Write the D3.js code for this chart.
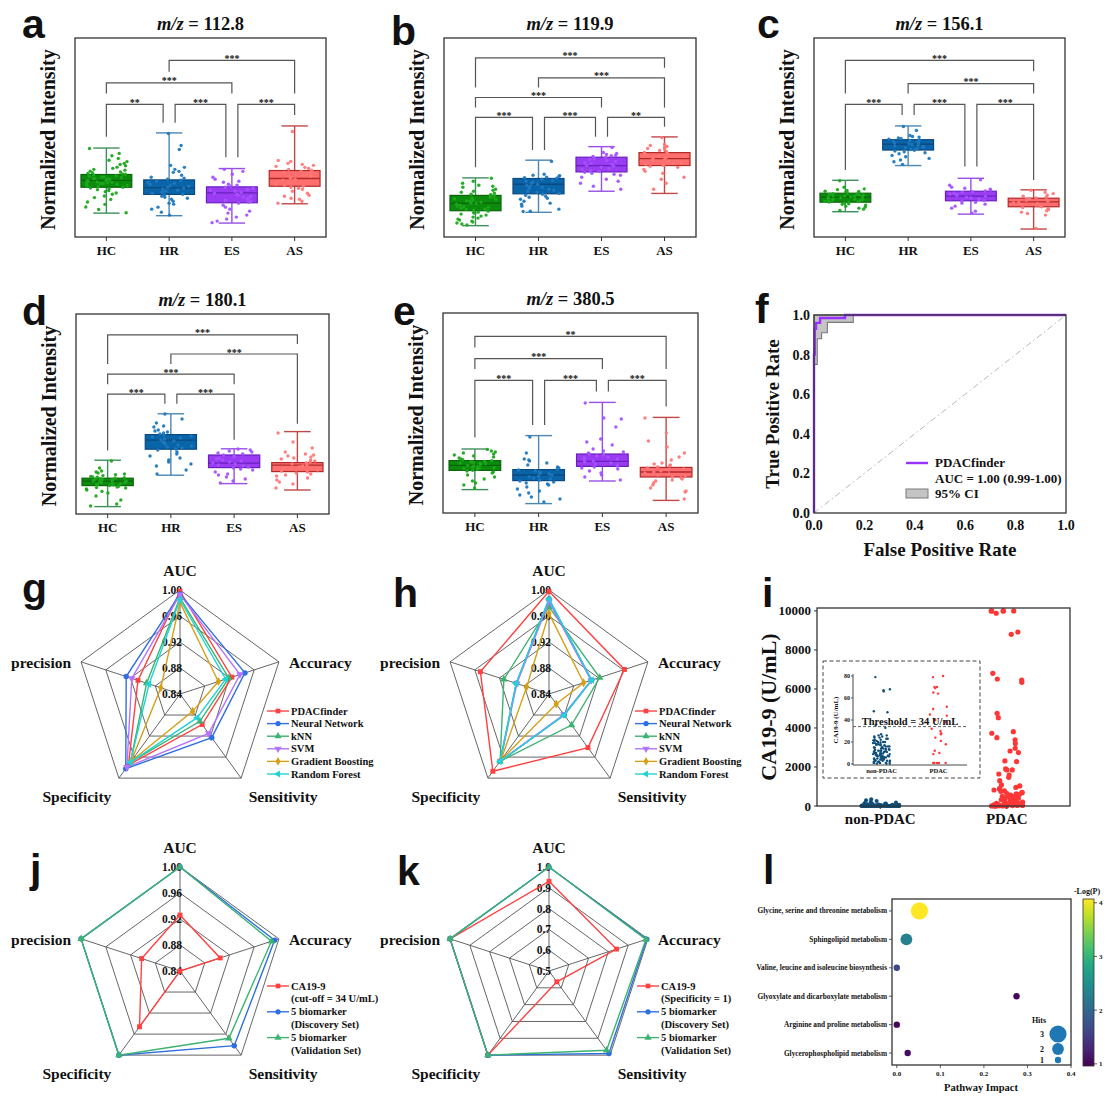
<!DOCTYPE html>
<html><head><meta charset="utf-8">
<script src="https://cdn.jsdelivr.net/npm/d3@7"></script>
<style>
body{margin:0;background:#fff}
svg{display:block}
text{font-family:"Liberation Serif","Times New Roman",serif;font-weight:bold;fill:#111}
</style></head><body>
<svg id="c" width="1116" height="1106"></svg>
<script>
// ---------------- DATA ----------------
const groups = ["HC","HR","ES","AS"];
// box stats [min,q1,median,q3,max] (normalized units, 0-100 of plot height)
const statsA = [[12.0,25.0,28.5,31.4,44.7],[10.7,21.4,24.7,28.7,52.3],[7.0,17.2,22.2,25.2,34.4],[16.7,25.5,29.4,33.4,55.8]];
const statsB = [[5.7,13.2,17.0,20.9,29.7],[12.4,21.7,26.5,29.4,38.6],[23.0,32.7,35.9,40.1,45.4],[21.9,35.9,39.4,42.4,50.3]];
const statsC = [[12.7,17.5,20.0,22.0,28.5],[35.9,43.7,46.6,48.9,55.8],[11.5,18.2,20.5,23.0,29.5],[4.0,15.2,17.7,19.5,23.7]];
const statsD = [[3.7,14.2,16.4,17.9,26.9],[19.4,32.4,36.9,39.7,50.1],[15.2,23.2,25.4,29.5,32.6],[12.0,21.2,24.4,25.7,41.2]];
const statsE = [[11.7,21.3,23.8,26.2,32.0],[4.7,16.2,19.0,21.7,38.7],[16.0,23.3,25.8,29.5,55.3],[6.3,18.0,20.5,22.8,47.8]];

const pointsA = [
 [44.5,42,40.8,39.5,38.6,37.9,37,36.4,35.8,35.1,34.5,34,33.6,33.1,32.7,32.3,31.9,31.5,31.2,30.8,30.5,30.1,29.8,29.5,29.2,28.9,28.6,28.3,28,27.7,27.4,27.1,26.8,26.5,26.2,25.9,25.6,25.3,25,24.6,24.2,23.8,23.3,22.8,22.1,21.5,20.6,19.8,18.9,17.6,16.4,15.1,13.8,12.2,29.3,28.1,30.2,26.9,31.7,27.5],
 [52,46,44,36,35,34,33,32.5,31,30,29.5,29,28.5,28,27.5,27,26.5,26,25.5,25,24.5,24,23.5,23,22.5,22,21.5,21,20.5,20,19.5,19,18,17,16.5,15,14,12.5,11],
 [34,33,31.5,30,29,28,27.5,26.5,26,25.5,25,24.5,24,23.5,23,22.5,22,21.5,21,20.5,20,19.5,19,18.5,18,17.5,17,16,15,14,13,12,11,10,9,8,7.2],
 [53,38.5,38,37,36.5,36,35.5,35,34.5,34,33.5,33,32.5,32,31.5,31,30.5,30,29.5,29,28.5,28,27.5,27,26.5,26,25.5,25,24.5,24,23,22,21,20.5,19.5,19,18,17]];
const pointsB = [
 [29.5,28,27,26,25.5,25,24,23.5,23,22.5,22,21.5,21,20.5,20,19.5,19,18.5,18,17.5,17,16.5,16,15.5,15,14.5,14,13.5,13,12.5,12,11.5,11,10.5,10,9.5,9,8.5,8,7.5,7,6.5,6,18.2,16.8,15.2,13.8,19.2,21.3,12.2],
 [38,31.5,31,30.8,30.5,30,29.8,29.5,29,28.5,28,27.5,27,26.5,26,25.5,25,24.5,24,23.5,23,22.5,22,21.5,21,20.5,20,19.5,19,18,17,16.5,15.5,14,13,12.8],
 [45,42.5,42,41.5,41,40.8,40.5,40,39.5,39,38.5,38,37.5,37,36.5,36,35.5,35,34.5,34,33.5,33,32.5,32,31.5,31,30,29,28,27,25.5,24],
 [50,46.5,46,45.5,45,44.5,44,43.5,43,42.5,42,41.5,41,40.5,40,39.5,39,38.5,38,37.5,37,36.5,36,35.5,35,34,33,32,30,29,27,24]];
const pointsC = [
 [28.3,25,24.2,23.8,23.4,23,22.7,22.4,22.1,21.8,21.5,21.2,20.9,20.6,20.3,20,19.7,19.4,19.1,18.8,18.5,18.2,17.9,17.6,17.3,17,16.7,16.4,16,15.5,15,14.5,14,13.3,21,19,20.5,18,22.9,17.8,19.9,21.6],
 [55.5,53.5,51,50.5,50.2,49.8,49.5,49.2,48.9,48.5,48.2,47.9,47.5,47.2,46.9,46.5,46.2,45.8,45.5,45.1,44.8,44.4,44,43.6,43.2,42.8,42.3,41.8,41,40.3,39.5,38.7,37.8,36.5],
 [28.8,26,25,24.5,24,23.6,23.2,22.8,22.4,22,21.6,21.2,20.8,20.4,20,19.6,19.2,18.8,18.4,18,17.5,17,16.5,15.5,14.5,13,12],
 [23.5,22.5,21.8,21,20.5,20,19.6,19.2,18.8,18.4,18,17.6,17.2,16.8,16.4,16,15.6,15.2,14.8,14.3,13.8,13.2,12.5,11.8,11,4.3]];
const pointsD = [
 [26.5,23,21.5,21,20.5,20,19.6,19.2,18.8,18.5,18.2,17.9,17.6,17.3,17,16.8,16.5,16.2,16,15.7,15.4,15.1,14.8,14.5,14.2,13.9,13.5,13,12.5,12,11.3,10.5,9,7,5,4,17.1,15.9,16.6,14.6,18.4,13.2],
 [50,47.5,45.5,44,43.5,42,41.5,41,40.5,40,39.5,39,38.5,38,37.5,37,36.5,36,35.5,35,34.5,34,33.5,33,32.5,32,31,30,29,28,27,26,25,24,22,20],
 [32.5,32,31.5,31,30.5,30,29.5,29,28.5,28,27.5,27,26.5,26,25.5,25,24.5,24,23.5,23,22.5,22,21,20,19.5,18.5,17.5,16.5,15.5],
 [40.5,36,33,31,30,29.5,29,28.5,28,27.5,27,26.5,26,25.5,25,24.5,24,23.5,23,22.5,22,21.5,21,20.5,20,19.5,19,18,17,16,15,13]];
const pointsE = [
 [31.8,31,30.5,30,29.5,29,28.5,28,27.5,27,26.6,26.2,25.8,25.4,25,24.6,24.2,23.8,23.4,23,22.6,22.2,21.8,21.4,21,20.5,20,19,18,17,16,15,14,12.5,24.9,23.1,22.4,25.6],
 [38,30,27,26.5,26,25,24,23,22.5,22,21.5,21,20.5,20,19.5,19,18.5,18,17.5,17,16.5,16,15.5,15,14.5,14,13,12,11,10,9,8,7,5.5],
 [55,47.5,47,43,37,35.5,34,32,31,30.5,30,29.5,29,28.5,28,27.5,27,26.5,26,25.5,25,24.5,24,23.5,23,22.5,22,21,20,19,18,16.5],
 [47.5,40,36,33,30,28,26.5,25,24.5,24,23.5,23,22.5,22,21.5,21,20.5,20,19.5,19,18.5,18,17.5,17,16.5,16,15,14,12.5,11,10.5,7]];

// significance brackets: [from, to, bracket level, left leg bottom, right leg bottom, label]
const bracketsA = [["HC","HR",66.6,50.4,57.4,"**"],["HR","ES",66.6,57.4,40.1,"***"],["ES","AS",66.6,40.1,61.3,"***"],["HC","ES",77.5,72.1,72.1,"***"],["HR","AS",88.8,83.0,72.1,"***"]];
const bracketsB = [["HC","HR",60.1,35.1,43.7,"***"],["HR","ES",60.1,43.7,50.4,"***"],["ES","AS",60.1,50.4,55.4,"**"],["HC","ES",70.1,65.1,65.1,"***"],["HR","AS",80.0,75.1,65.1,"***"],["HC","AS",90.0,75.1,85.0,"***"]];
const bracketsC = [["HC","HR",66.6,33.7,61.3,"***"],["HR","ES",66.6,61.3,35.4,"***"],["ES","AS",66.6,35.4,28.7,"***"],["HR","AS",77.1,72.1,72.1,"***"],["HC","AS",88.8,72.1,83.3,"***"]];
const bracketsD = [["HC","HR",59.9,31.7,55.1,"***"],["HR","ES",59.9,55.1,37.1,"***"],["HC","ES",69.9,64.9,64.9,"***"],["HR","AS",80.0,75.0,45.1,"***"],["HC","AS",89.6,75.0,85.0,"***"]];
const bracketsE = [["HC","HR",66.3,37.8,44.0,"***"],["HR","ES",66.3,44.0,60.8,"***"],["ES","AS",66.3,60.8,53.3,"***"],["HC","ES",77.2,72.0,72.0,"***"],["HC","AS",88.3,82.8,72.0,"**"]];

// ROC (panel f)
const rocFpr = [0,0,0.003,0.003,0.008,0.008,0.024,0.024,0.123,0.123,1.0];
const rocTpr = [0,0.80,0.80,0.93,0.93,0.96,0.96,0.985,0.985,1.0,1.0];
const ciLowFpr = [0,0.013,0.013,0.03,0.03,0.053,0.053,0.156,0.156,1.0];
const ciLowTpr = [0.75,0.75,0.88,0.88,0.91,0.91,0.963,0.963,1.0,1.0];
const fTicks = [0,0.2,0.4,0.6,0.8,1.0];

// radar panels
const radarAxes = ["AUC","Accuracy","Sensitivity","Specificity","precision"];
const modelNames = ["PDACfinder","Neural Network","kNN","SVM","Gradient Boosting","Random Forest"];
const gValues = [
 [0.998,0.924,0.898,0.975,0.908],
 [0.994,0.945,0.923,0.982,0.927],
 [0.988,0.919,0.892,0.970,0.894],
 [0.993,0.937,0.915,0.979,0.918],
 [0.981,0.902,0.873,0.968,0.871],
 [0.985,0.914,0.885,0.970,0.890]];
const hValues = [
 [0.998,0.962,0.942,0.987,0.951],
 [0.986,0.909,0.880,0.968,0.893],
 [0.974,0.922,0.899,0.968,0.913],
 [0.982,0.908,0.879,0.967,0.892],
 [0.964,0.896,0.859,0.966,0.876],
 [0.986,0.909,0.880,0.968,0.893]];
const radarTicks4 = [0.84,0.88,0.92,0.96,1.00];
const jNames = [["CA19-9","(cut-off = 34 U/mL)"],["5 biomarker","(Discovery Set)"],["5 biomarker","(Validation Set)"]];
const jValues = [[0.926,0.905,0.84,0.946,0.902],[1.0,0.993,0.982,1.0,1.0],[1.0,0.988,0.968,1.0,1.0]];
const kNames = [["CA19-9","(Specificity = 1)"],["5 biomarker","(Discovery Set)"],["5 biomarker","(Validation Set)"]];
const kValues = [[0.931,0.841,0.564,1.0,1.0],[1.0,0.994,0.990,1.0,1.0],[1.0,0.990,0.971,1.0,1.0]];
const radarTicksK = [0.5,0.6,0.7,0.8,0.9,1.0];

// panel i: CA19-9
const iCats = ["non-PDAC","PDAC"];
const nonPdacValues = [79,68,67,66,48,47,35,33,27,26,26,25,25,24,24,23,23,22,22,21,21,20,20,20,19,19,18,18,18,17,17,16,16,16,15,15,15,14,14,14,13,13,13,12,12,12,12,11,11,11,10,10,10,10,9,9,9,9,8,8,8,8,7,7,7,7,6,6,6,6,5,5,5,5,4,4,4,4,3,3,3,3,2,2,2,2,1,1,1,1,0.5,0.5,0.5,21.5,17.5,13.5,9.5,5.5,11.5,15.5,3.5,7.5,19.5,6.5,120,150,180,95,110,300,340,260,210,140,90,105,130];
const pdacValues = [10000,10000,10000,10000,10000,9880,8800,8920,6510,6460,6800,6340,4750,4530,3810,3730,3500,3390,3210,2960,2820,2740,2310,2270,1900,1850,1850,1640,1590,1470,1300,1080,1030,870,950,900,820,780,750,700,680,650,620,600,560,520,500,480,450,420,400,380,350,320,300,280,260,240,220,200,180,160,150,130,120,100,90,80,79,70,69,65,64,70,52,50,45,44,40,38,32,30,28,27,24,21,18,12,10,9,1,1,1,1,1];
const iTicks = [0,2000,4000,6000,8000,10000];
const insetTicks = [0,20,40,60,80];
const threshold = 34;

// panel l: pathway analysis
const pathways = ["Glycine, serine and threonine metabolism","Sphingolipid metabolism","Valine, leucine and isoleucine biosynthesis","Glyoxylate and dicarboxylate metabolism","Arginine and proline metabolism","Glycerophospholipid metabolism"];
const pathImpact = [0.052,0.022,0.0,0.275,0.0,0.025];
const pathLogP = [4.07,2.3,1.62,1.03,1.02,1.06];
const pathHits = [3,2,1,1,1,1];
const lTicks = [0.0,0.1,0.2,0.3,0.4];
const cbTicks = [1,2,3,4];
const hitsLegend = [3,2,1];

// ---------------- DRAW ----------------
const svg = d3.select("#c");
svg.append("rect").attr("width",1116).attr("height",1106).attr("fill","#fff");

function T(g,x,y,s,size,anchor){
  return g.append("text").attr("x",x).attr("y",y).attr("font-size",size).attr("text-anchor",anchor||"start").text(s);
}
function jit(i,k){const r=Math.sin((i+1)*127.1+(k+1)*311.7)*43758.5453;return r-Math.floor(r)-0.5;}

const boxCol = [
 {fill:"#0c8c0c",edge:"#0a650a",wh:"#3f8f5c",pt:"#1ca81c"},
 {fill:"#0a64a8",edge:"#0a4a80",wh:"#4a87b5",pt:"#1f78be"},
 {fill:"#9a3df2",edge:"#6b1fbf",wh:"#9650e6",pt:"#a552ff"},
 {fill:"#ff6e6e",edge:"#b02a2a",wh:"#c24848",pt:"#ff7777"}];

function boxPanel(p){
  const g = svg.append("g");
  const x = d3.scalePoint().domain(groups).range([p.x0,p.x1]).padding(0.5);
  const y = d3.scaleLinear().domain([0,100]).range([p.y1,p.y0]);
  const st = x.step(), bw = st*0.81, cw = st*0.42;
  const t = g.append("text").attr("x",(p.x0+p.x1)/2).attr("y",p.y0-8).attr("font-size",18.5).attr("text-anchor","middle");
  t.append("tspan").attr("font-style","italic").text("m/z");
  t.append("tspan").text(" = "+p.title);
  g.append("text").attr("transform",`translate(${p.x0-20},${(p.y0+p.y1)/2+2}) rotate(-90)`).attr("font-size",20).attr("text-anchor","middle").text("Normalized Intensity");
  groups.forEach(c=>{
    g.append("line").attr("x1",x(c)).attr("x2",x(c)).attr("y1",p.y1).attr("y2",p.y1+4).attr("stroke","#333").attr("stroke-width",1);
    T(g,x(c),p.y1+18,c,13,"middle");
  });
  p.stats.forEach((s,i)=>{
    const cx = x(groups[i]), c = boxCol[i];
    g.append("line").attr("x1",cx).attr("x2",cx).attr("y1",y(s[0])).attr("y2",y(s[4])).attr("stroke",c.wh).attr("stroke-width",1.4);
    [s[0],s[4]].forEach(v=>g.append("line").attr("x1",cx-cw/2).attr("x2",cx+cw/2).attr("y1",y(v)).attr("y2",y(v)).attr("stroke",c.wh).attr("stroke-width",1.4));
    g.append("rect").attr("x",cx-bw/2).attr("width",bw).attr("y",y(s[3])).attr("height",y(s[1])-y(s[3])).attr("fill",c.fill).attr("stroke",c.edge).attr("stroke-width",1.2);
    g.append("line").attr("x1",cx-bw/2).attr("x2",cx+bw/2).attr("y1",y(s[2])).attr("y2",y(s[2])).attr("stroke",c.edge).attr("stroke-width",1.3);
  });
  p.points.forEach((arr,i)=>{
    const cx = x(groups[i]);
    arr.forEach((v,k)=>g.append("circle").attr("cx",cx+jit(k,i+p.seed)*st*0.68).attr("cy",y(v)).attr("r",1.7).attr("fill",boxCol[i].pt).attr("fill-opacity",0.95));
  });
  p.brackets.forEach(b=>{
    const ls = p.brackets.some(o=>o!==b&&o[2]===b[2]&&o[1]===b[0])?6:0;
    const rs = p.brackets.some(o=>o!==b&&o[2]===b[2]&&o[0]===b[1])?-6:0;
    const xa = x(b[0])+ls, xb = x(b[1])+rs;
    g.append("path").attr("d",`M${xa},${y(b[3])}V${y(b[2])}H${xb}V${y(b[4])}`).attr("fill","none").attr("stroke","#555").attr("stroke-width",1.2);
    T(g,(xa+xb)/2,y(b[2])+1.5,b[5],10,"middle").attr("fill","#333");
  });
  g.append("rect").attr("x",p.x0).attr("y",p.y0).attr("width",p.x1-p.x0).attr("height",p.y1-p.y0).attr("fill","none").attr("stroke","#333").attr("stroke-width",1.3);
}

boxPanel({x0:75,x1:326,y0:38,y1:237,title:"112.8",stats:statsA,points:pointsA,brackets:bracketsA,seed:0});
boxPanel({x0:444,x1:696,y0:38,y1:237,title:"119.9",stats:statsB,points:pointsB,brackets:bracketsB,seed:5});
boxPanel({x0:814,x1:1065,y0:38,y1:237,title:"156.1",stats:statsC,points:pointsC,brackets:bracketsC,seed:10});
boxPanel({x0:76,x1:329,y0:314,y1:514,title:"180.1",stats:statsD,points:pointsD,brackets:bracketsD,seed:15});
boxPanel({x0:443,x1:698,y0:313,y1:513,title:"380.5",stats:statsE,points:pointsE,brackets:bracketsE,seed:20});

// ---- ROC panel f ----
(function(){
  const g = svg.append("g");
  const x = d3.scaleLinear().domain([0,1]).range([814,1066]);
  const y = d3.scaleLinear().domain([0,1]).range([513,315]);
  const low = ciLowFpr.map((f,i)=>[x(f),y(ciLowTpr[i])]);
  const band = "M"+x(0)+","+y(1)+"L"+low.map(d=>d.join(",")).join("L")+"Z";
  g.append("path").attr("d",band).attr("fill","#c4c4c4").attr("stroke","#7a7a7a").attr("stroke-width",1.1);
  g.append("line").attr("x1",x(0)).attr("y1",y(0)).attr("x2",x(1)).attr("y2",y(1)).attr("stroke","#b8b8b8").attr("stroke-width",1).attr("stroke-dasharray","6,3,1.5,3");
  const line = d3.line().x(d=>x(d[0])).y(d=>y(d[1]));
  g.append("path").attr("d",line(rocFpr.map((f,i)=>[f,rocTpr[i]]))).attr("fill","none").attr("stroke","#9b30ff").attr("stroke-width",2.4);
  g.append("rect").attr("x",814).attr("y",315).attr("width",252).attr("height",198).attr("fill","none").attr("stroke","#333").attr("stroke-width",1.3);
  fTicks.forEach(t=>{
    T(g,x(t),530,t.toFixed(1),14,"middle");
    T(g,810,y(t)+5,t.toFixed(1),14,"end");
  });
  T(g,940,556,"False Positive Rate",19,"middle");
  g.append("text").attr("transform","translate(779,414) rotate(-90)").attr("font-size",19).attr("text-anchor","middle").text("True Positive Rate");
  g.append("line").attr("x1",906).attr("x2",928).attr("y1",463).attr("y2",463).attr("stroke","#9b30ff").attr("stroke-width",2.4);
  T(g,935,467,"PDACfinder",13);
  T(g,935,483,"AUC = 1.00 (0.99-1.00)",13);
  g.append("rect").attr("x",906).attr("y",489).attr("width",22).attr("height",9).attr("fill","#c4c4c4").attr("stroke","#7a7a7a");
  T(g,935,498,"95% CI",13);
})();

// ---- radar ----
const symMap = {sq:d3.symbolSquare,ci:d3.symbolCircle,tu:d3.symbolTriangle,td:d3.symbolTriangle,di:d3.symbolDiamond,tl:d3.symbolTriangle};
const symRot = {sq:0,ci:0,tu:0,td:180,di:0,tl:-90};
function radar(p){
  const g = svg.append("g");
  const ang = i => -Math.PI/2 + i*2*Math.PI/5;
  const r = d3.scaleLinear().domain([p.ticks[0],p.ticks[p.ticks.length-1]]).range([0,p.R]);
  const pt = (i,v) => [p.cx + r(v)*Math.cos(ang(i)), p.cy + r(v)*Math.sin(ang(i))];
  const vmax = p.ticks[p.ticks.length-1];
  p.ticks.slice(1).forEach(t=>{
    g.append("path").attr("d","M"+radarAxes.map((a,i)=>pt(i,t).join(",")).join("L")+"Z").attr("fill","none").attr("stroke","#555").attr("stroke-width",0.9);
  });
  radarAxes.forEach((a,i)=>{
    const e = pt(i,vmax);
    g.append("line").attr("x1",p.cx).attr("y1",p.cy).attr("x2",e[0]).attr("y2",e[1]).attr("stroke","#555").attr("stroke-width",0.9);
  });
  p.ticks.forEach(t=>T(g,p.cx+2,pt(0,t)[1]+4,p.fmt(t),11.5,"end"));
  const v = radarAxes.map((a,i)=>pt(i,vmax));
  T(g,p.cx,v[0][1]-14,"AUC",15.5,"middle");
  T(g,v[1][0]+10,v[1][1]+6,"Accuracy",15.5,"start");
  T(g,v[2][0]+42,v[2][1]+24,"Sensitivity",15.5,"middle");
  T(g,v[3][0]-42,v[3][1]+24,"Specificity",15.5,"middle");
  T(g,v[4][0]-10,v[4][1]+6,"precision",15.5,"end");
  p.values.forEach((vals,s)=>{
    const pts = vals.map((val,i)=>pt(i,val));
    g.append("path").attr("d","M"+pts.map(d=>d.join(",")).join("L")+"Z").attr("fill","none").attr("stroke",p.colors[s]).attr("stroke-width",1.4);
    pts.forEach(d=>g.append("path").attr("d",d3.symbol(symMap[p.syms[s]],24)()).attr("transform",`translate(${d[0]},${d[1]}) rotate(${symRot[p.syms[s]]})`).attr("fill",p.colors[s]));
  });
  let yy = p.ly;
  p.names.forEach((n,s)=>{
    const lines = Array.isArray(n)?n:[n];
    g.append("line").attr("x1",p.lx).attr("x2",p.lx+22).attr("y1",yy).attr("y2",yy).attr("stroke",p.colors[s]).attr("stroke-width",1.4);
    g.append("path").attr("d",d3.symbol(symMap[p.syms[s]],22)()).attr("transform",`translate(${p.lx+11},${yy}) rotate(${symRot[p.syms[s]]})`).attr("fill",p.colors[s]);
    lines.forEach((ln,k)=>{T(g,p.lx+24,yy+3.5,ln,10.5); yy+=p.lstep;});
  });
}
const modelColors = ["#ff4141","#2f6fe0","#3cb371","#b273ff","#d4a017","#22d3d3"];
const modelSyms = ["sq","ci","tu","td","di","tl"];
const f2 = d3.format(".2f"), f1 = d3.format(".1f");
radar({cx:180,cy:694,R:104,ticks:radarTicks4,fmt:f2,values:gValues,names:modelNames,colors:modelColors,syms:modelSyms,lx:267,ly:711,lstep:12.6});
radar({cx:549,cy:694,R:104,ticks:radarTicks4,fmt:f2,values:hValues,names:modelNames,colors:modelColors,syms:modelSyms,lx:635,ly:711,lstep:12.6});
const jkColors = ["#ff4141","#2f6fe0","#3cb371"], jkSyms = ["sq","ci","tu"];
radar({cx:180,cy:971,R:104,ticks:radarTicks4,fmt:f2,values:jValues,names:jNames,colors:jkColors,syms:jkSyms,lx:267,ly:986,lstep:12.9});
radar({cx:549,cy:971,R:104,ticks:radarTicksK,fmt:f1,values:kValues,names:kNames,colors:jkColors,syms:jkSyms,lx:637,ly:986,lstep:12.9});

// ---- panel i ----
(function(){
  const g = svg.append("g");
  const x = d3.scalePoint().domain(iCats).range([817,1070]).padding(0.5);
  const y = d3.scaleLinear().domain([0,10150]).range([806,608]);
  const cols = ["#0d4f7a","#ff3636"];
  [nonPdacValues,pdacValues].forEach((arr,ci)=>{
    arr.forEach((v,k)=>g.append("circle").attr("cx",x(iCats[ci])+jit(k,ci+40)*x.step()*(ci?0.26:0.3)).attr("cy",y(v)).attr("r",ci?2.6:2).attr("fill",cols[ci]));
  });
  g.append("rect").attr("x",817).attr("y",608).attr("width",253).attr("height",198).attr("fill","none").attr("stroke","#333").attr("stroke-width",1.3);
  iTicks.forEach(t=>{
    g.append("line").attr("x1",814).attr("x2",817).attr("y1",y(t)).attr("y2",y(t)).attr("stroke","#333");
    T(g,811,y(t)+4.5,t,13,"end");
  });
  iCats.forEach(c=>{
    g.append("line").attr("x1",x(c)).attr("x2",x(c)).attr("y1",806).attr("y2",809).attr("stroke","#333");
    T(g,x(c),824,c,15,"middle");
  });
  g.append("text").attr("transform","translate(776,707) rotate(-90)").attr("font-size",22).attr("text-anchor","middle").text("CA19-9 (U/mL)");
  g.append("rect").attr("x",823).attr("y",661).attr("width",157).attr("height",117).attr("fill","none").attr("stroke","#444").attr("stroke-width",1).attr("stroke-dasharray","4,2.5");
  const xi = d3.scalePoint().domain(iCats).range([853,967]).padding(0.5);
  const yi = d3.scaleLinear().domain([0,80]).range([764,676]);
  [nonPdacValues,pdacValues].forEach((arr,ci)=>{
    arr.filter(v=>v<=82).forEach((v,k)=>g.append("circle").attr("cx",xi(iCats[ci])+jit(k,ci+60)*xi.step()*0.3).attr("cy",yi(v)).attr("r",1.2).attr("fill",cols[ci]));
  });
  g.append("path").attr("d",`M853,674V765H967`).attr("fill","none").attr("stroke","#333").attr("stroke-width",0.9);
  insetTicks.forEach(t=>{
    g.append("line").attr("x1",851).attr("x2",853).attr("y1",yi(t)).attr("y2",yi(t)).attr("stroke","#333").attr("stroke-width",0.8);
    T(g,850,yi(t)+2,t,6,"end");
  });
  iCats.forEach(c=>T(g,xi(c),773,c,6.5,"middle"));
  g.append("text").attr("transform","translate(838,720) rotate(-90)").attr("font-size",7).attr("text-anchor","middle").text("CA19-9 (U/mL)");
  g.append("line").attr("x1",853).attr("x2",967).attr("y1",yi(threshold)).attr("y2",yi(threshold)).attr("stroke","#555").attr("stroke-width",0.9).attr("stroke-dasharray","3,2");
  T(g,910,725,"Threshold = 34 U/mL",10.5,"middle");
})();

// ---- panel l ----
(function(){
  const g = svg.append("g");
  const x = d3.scaleLinear().domain([-0.011,0.4]).range([892,1071]);
  const y = d3.scalePoint().domain(pathways).range([899,1065]).padding(0.42);
  const cdom = [0.96,4.07];
  const col = d3.scaleSequential(d3.interpolateViridis).domain(cdom);
  const rs = d3.scaleLinear().domain([1,3]).range([3.2,8.6]);
  g.append("rect").attr("x",892).attr("y",899).attr("width",179).attr("height",166).attr("fill","#fff").attr("stroke","#333").attr("stroke-width",1.3);
  pathways.forEach((pw,i)=>{
    g.append("circle").attr("cx",x(pathImpact[i])).attr("cy",y(pw)).attr("r",rs(pathHits[i])).attr("fill",col(pathLogP[i]));
    g.append("line").attr("x1",889).attr("x2",892).attr("y1",y(pw)).attr("y2",y(pw)).attr("stroke","#333").attr("stroke-width",0.8);
    T(g,887,y(pw)+2.5,pw,7.3,"end");
  });
  lTicks.forEach(t=>{
    g.append("line").attr("x1",x(t)).attr("x2",x(t)).attr("y1",1065).attr("y2",1068).attr("stroke","#333").attr("stroke-width",0.8);
    T(g,x(t),1076,t.toFixed(1),7,"middle");
  });
  T(g,981,1091,"Pathway Impact",10.5,"middle");
  T(g,1039,1023,"Hits",8,"middle");
  const ly = [1034,1049,1060];
  hitsLegend.forEach((h,k)=>{
    g.append("circle").attr("cx",1058).attr("cy",ly[k]).attr("r",rs(h)).attr("fill","#1f77b4");
    T(g,1042,ly[k]+3,h,8,"middle");
  });
  const defs = svg.append("defs");
  const lg = defs.append("linearGradient").attr("id","vir").attr("x1",0).attr("y1",1).attr("x2",0).attr("y2",0);
  d3.range(0,1.0001,0.1).forEach(t=>lg.append("stop").attr("offset",t).attr("stop-color",d3.interpolateViridis(t)));
  g.append("rect").attr("x",1083).attr("y",899).attr("width",11).attr("height",167).attr("fill","url(#vir)").attr("stroke","#333").attr("stroke-width",0.8);
  const yc = d3.scaleLinear().domain(cdom).range([1066,899]);
  cbTicks.forEach(t=>{
    g.append("line").attr("x1",1094).attr("x2",1097).attr("y1",yc(t)).attr("y2",yc(t)).attr("stroke","#333").attr("stroke-width",0.8);
    T(g,1099,yc(t)+2.5,t,7);
  });
  T(g,1087,894,"-Log(P)",8,"middle");
})();

// panel letters
const letters = [["a",22,38],["b",391,45],["c",757,38],["d",22,325],["e",393,325],["f",755,323],["g",22,602],["h",393,607],["i",762,607],["j",30,883],["k",397,885],["l",763,884]];
letters.forEach(l=>svg.append("text").attr("x",l[1]).attr("y",l[2]).attr("font-size",41).style("font-family","'Liberation Sans',Arial,sans-serif").style("font-weight","bold").text(l[0]));
</script>
</body></html>
